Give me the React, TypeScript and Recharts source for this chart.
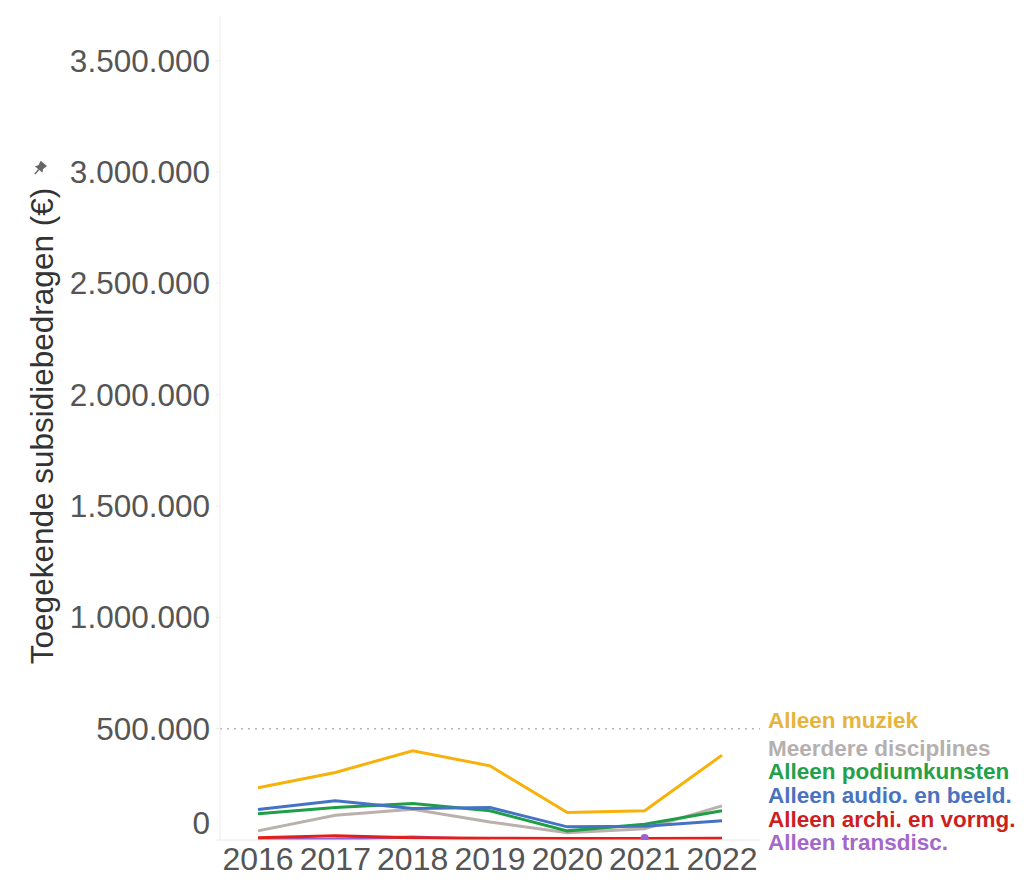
import { LineChart, Line, XAxis, YAxis, ReferenceLine } from 'recharts';

const years = ['2016', '2017', '2018', '2019', '2020', '2021', '2022'];

const muziek = [235000, 303000, 401000, 333000, 123000, 131000, 381000];
const meerdere = [41000, 111000, 138000, 81000, 33000, 51000, 153000];
const podium = [118000, 146000, 164000, 131000, 41000, 71000, 131000];
const audio = [137000, 176000, 141000, 146000, 59000, 62000, 86000];
const archi = [10000, 19000, 10000, 8000, 7000, 7000, 8000];
const transdisc = [1000, 3000, 14000, 2000, null, 9000, null];

const yTicks = [0, 500000, 1000000, 1500000, 2000000, 2500000, 3000000, 3500000];

const series = [
  { key: 'meerdere', name: 'Meerdere disciplines', line: '#bab0ac', text: '#b5afaf' },
  { key: 'podium', name: 'Alleen podiumkunsten', line: '#1f9e48', text: '#22a04a' },
  { key: 'audio', name: 'Alleen audio. en beeld.', line: '#4472c4', text: '#4a72c0' },
  { key: 'transdisc', name: 'Alleen transdisc.', line: '#9b5fd0', text: '#a368c9' },
  { key: 'archi', name: 'Alleen archi. en vormg.', line: '#e0201b', text: '#cc1f1f' },
  { key: 'muziek', name: 'Alleen muziek', line: '#f7b10a', text: '#e6b43c' },
];

// order of the labels on the right, top to bottom, with their vertical centres
const labelOrder = ['muziek', 'meerdere', 'podium', 'audio', 'archi', 'transdisc'];
const labelCentres = [721, 749, 772, 796, 820, 843];

const data = years.map((year, i) => ({
  year,
  muziek: muziek[i],
  meerdere: meerdere[i],
  podium: podium[i],
  audio: audio[i],
  archi: archi[i],
  transdisc: transdisc[i],
}));

const font = '"Liberation Sans", Arial, sans-serif';

function formatNL(v: number): string {
  return String(v).replace(/\B(?=(\d{3})+(?!\d))/g, '.');
}

function YTick({ x, y, payload }: any) {
  const shift = payload.value === 0 ? -17 : 0;
  return (
    <text
      x={x}
      y={y + shift}
      textAnchor="end"
      dominantBaseline="central"
      fontSize={31.5}
      fill="#555"
      fontFamily={font}
    >
      {formatNL(payload.value)}
    </text>
  );
}

function YTitle() {
  const cx = 34;
  const cy = 418;
  return (
    <g>
      <text
        x={cx}
        y={cy}
        transform={`rotate(-90 ${cx} ${cy})`}
        textAnchor="middle"
        dominantBaseline="central"
        fontSize={31.5}
        fill="#333"
        fontFamily={font}
      >
        Toegekende subsidiebedragen (€)
      </text>
      <g transform="translate(32 160) rotate(40)">
        <path d="M-4 -6 L4 -6 L3 -1 L5 2 L-5 2 L-3 -1 Z" fill="#666" />
        <path d="M0 2 L0 8" stroke="#666" strokeWidth={1.5} />
      </g>
    </g>
  );
}

function IsolatedDot(props: any) {
  const { cx, cy, index } = props;
  const prev = index > 0 ? transdisc[index - 1] : null;
  const next = index < transdisc.length - 1 ? transdisc[index + 1] : null;
  if (transdisc[index] == null || prev != null || next != null) {
    return <g key={`d${index}`} />;
  }
  return <circle key={`d${index}`} cx={cx} cy={cy} r={4} fill="#9b5fd0" />;
}

export default function App() {
  return (
    <div style={{ position: 'relative', width: 1000, height: 880, fontFamily: font }}>
      <LineChart
        width={1000}
        height={880}
        data={data}
        margin={{ top: 8, right: 248, bottom: 0, left: 0 }}
      >
        <XAxis
          dataKey="year"
          padding={{ left: 38, right: 38 }}
          height={48}
          tickLine={false}
          tickSize={0}
          tickMargin={7}
          axisLine={{ stroke: '#e8e8e8' }}
          tick={{ fontSize: 32, fill: '#555', fontFamily: font }}
          interval={0}
        />
        <YAxis
          width={212}
          domain={[0, 3700000]}
          ticks={yTicks}
          allowDataOverflow
          tick={<YTick />}
          tickSize={4}
          tickMargin={6}
          tickLine={{ stroke: '#ececec' }}
          axisLine={{ stroke: '#ececec' }}
          label={<YTitle />}
        />
        <ReferenceLine y={500000} stroke="#b5b5b5" strokeDasharray="2 5" strokeWidth={1.5} />
        {series.map((s) => (
          <Line
            key={s.key}
            type="linear"
            dataKey={s.key}
            stroke={s.line}
            strokeWidth={3}
            dot={s.key === 'transdisc' ? IsolatedDot : false}
            activeDot={false}
            isAnimationActive={false}
          />
        ))}
      </LineChart>
      {labelOrder.map((k, i) => {
        const s = series.find((x) => x.key === k)!;
        return (
          <div
            key={k}
            style={{
              position: 'absolute',
              left: 760,
              top: labelCentres[i] - 8 - 11,
              fontSize: 22.5,
              lineHeight: '22px',
              fontWeight: 'bold',
              color: s.text,
              whiteSpace: 'nowrap',
            }}
          >
            {s.name}
          </div>
        );
      })}
    </div>
  );
}
